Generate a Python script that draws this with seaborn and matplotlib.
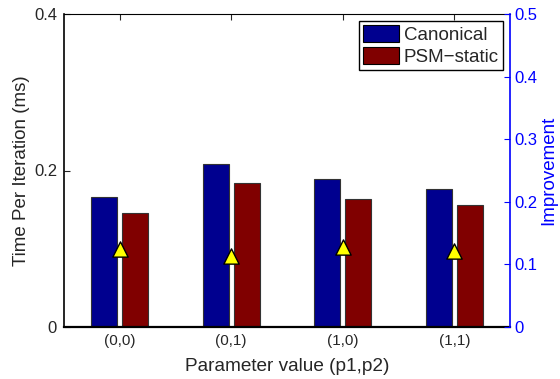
import matplotlib
matplotlib.use("Agg")
import matplotlib.pyplot as plt
import seaborn as sns
import pandas as pd
import numpy as np

categories = ["(0,0)", "(0,1)", "(1,0)", "(1,1)"]
series_names = ["Canonical", "PSM\u2212static"]
canonical = [0.166, 0.208, 0.189, 0.176]
psm_static = [0.146, 0.184, 0.164, 0.156]
improvement = [0.125, 0.113, 0.127, 0.121]
left_ticks = [0, 0.2, 0.4]
left_ticklabels = ["0", "0.2", "0.4"]
right_ticks = [0, 0.1, 0.2, 0.3, 0.4, 0.5]
right_ticklabels = ["0", "0.1", "0.2", "0.3", "0.4", "0.5"]

sns.set_style("white")
plt.rcParams["font.family"] = ["Liberation Sans", "DejaVu Sans"]

df = pd.DataFrame({
    "param": categories * 2,
    "time": canonical + psm_static,
    "series": [series_names[0]] * len(categories) + [series_names[1]] * len(categories),
})

fig = plt.figure(figsize=(5.6, 3.79), dpi=100)
ax = fig.add_axes([64 / 560, 1 - 327 / 379, 446 / 560, 313 / 379])

sns.barplot(data=df, x="param", y="time", hue="series", order=categories,
            hue_order=series_names, palette=["#00008F", "#800000"],
            saturation=1, width=0.56, gap=0.17, edgecolor="#333333",
            linewidth=0.8, ax=ax, legend=True)

ax.set_xlim(-0.5, len(categories) - 0.5)
ax.set_ylim(0, 0.4)
ax.set_yticks(left_ticks)
ax.set_yticklabels(left_ticklabels, fontsize=12)
ax.set_xticks(range(len(categories)))
ax.set_xticklabels(categories, fontsize=11)
ax.set_xlabel("Parameter value (p1,p2)", fontsize=13.7, labelpad=7)
ax.set_ylabel("Time Per Iteration (ms)", fontsize=13.5, labelpad=3)
ax.tick_params(axis="both", direction="in", length=4, width=0.8,
               top=True, right=True, pad=5)
for s in ["left", "top", "bottom"]:
    ax.spines[s].set_color("black")
ax.spines["left"].set_linewidth(1.2)
ax.spines["top"].set_linewidth(0.8)
ax.spines["bottom"].set_linewidth(1.6)
ax.spines["right"].set_visible(False)

leg = ax.legend(loc="upper right", fontsize=13.5, frameon=True, fancybox=False,
                edgecolor="black", framealpha=1, handlelength=1.9,
                handleheight=1.0, handletextpad=0.25, borderpad=0.25,
                labelspacing=0.15, borderaxespad=0.35)
leg.get_frame().set_linewidth(1.0)
for h in leg.legend_handles:
    h.set_edgecolor("black")

ax2 = ax.twinx()
sns.stripplot(x=categories, y=improvement, order=categories, ax=ax2,
              jitter=False, marker="^", size=11, color="#FFFF00",
              edgecolor="black", linewidth=1.0, zorder=5)
ax2.set_xlim(-0.5, len(categories) - 0.5)
ax2.set_ylim(0, 0.5)
ax2.set_yticks(right_ticks)
ax2.set_yticklabels(right_ticklabels, fontsize=12, color="#0000FF")
ax2.set_ylabel("Improvement", fontsize=13.5, color="#0000FF", labelpad=2)
ax2.tick_params(axis="y", direction="in", length=4, width=0.8,
                colors="#0000FF", pad=3, left=False, right=True,
                labelleft=False, labelright=True)
ax2.spines["right"].set_color("#0000FF")
ax2.spines["right"].set_linewidth(1.2)
for s in ["left", "top", "bottom"]:
    ax2.spines[s].set_visible(False)
ax2.tick_params(axis="x", bottom=False, top=False, labelbottom=False)
ax2.set_xlabel("")

fig.savefig("out.png", dpi=100)
